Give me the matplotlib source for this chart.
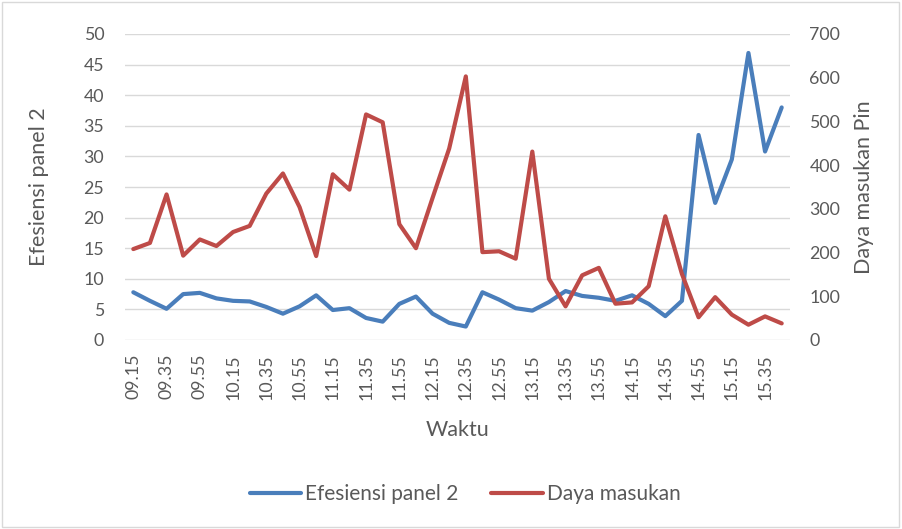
import matplotlib.pyplot as plt
from matplotlib.patches import Rectangle

plt.rcParams['font.family'] = ['Lato', 'DejaVu Sans']

# Data
waktu = ["09.15", "09.25", "09.35", "09.45", "09.55", "10.05", "10.15", "10.25",
         "10.35", "10.45", "10.55", "11.05", "11.15", "11.25", "11.35", "11.45",
         "11.55", "12.05", "12.15", "12.25", "12.35", "12.45", "12.55", "13.05",
         "13.15", "13.25", "13.35", "13.45", "13.55", "14.05", "14.15", "14.25",
         "14.35", "14.45", "14.55", "15.05", "15.15", "15.25", "15.35", "15.45"]

efisiensi = [7.8, 6.4, 5.1, 7.5, 7.7, 6.8, 6.4, 6.3, 5.4, 4.3,
             5.5, 7.3, 4.9, 5.2, 3.6, 3.0, 5.9, 7.1, 4.3, 2.8,
             2.2, 7.8, 6.6, 5.2, 4.8, 6.2, 8.0, 7.2, 6.9, 6.4,
             7.3, 5.9, 3.9, 6.4, 33.5, 22.4, 29.5, 46.9, 30.8, 38.0]

daya = [208, 222, 333, 193, 230, 215, 247, 261, 335, 381,
        304, 192, 379, 344, 516, 498, 265, 210, 325, 438,
        603, 201, 203, 186, 431, 140, 77, 148, 165, 83,
        86, 123, 283, 151, 52, 98, 58, 35, 54, 38]

blue = "#4A7EBB"
red = "#BE4B48"
gray = "#595959"

fig = plt.figure(figsize=(9.02, 5.29), dpi=100)
ax = fig.add_axes([125/902, 1 - 340/529, 665/902, 306/529])
ax2 = ax.twinx()

x = list(range(len(waktu)))
l1, = ax.plot(x, efisiensi, color=blue, lw=3, solid_joinstyle='round', solid_capstyle='round', zorder=3)
l2, = ax2.plot(x, daya, color=red, lw=3, solid_joinstyle='round', solid_capstyle='round', zorder=3)

ax.set_xlim(-0.5, len(waktu) - 0.5)
ax.set_ylim(0, 50)
ax2.set_ylim(0, 700)
ax.set_yticks(range(0, 51, 5))
ax2.set_yticks(range(0, 701, 100))
ax.set_xticks(x[::2])
ax.set_xticklabels(waktu[::2], rotation=90)

ax.grid(axis='y', color='#D9D9D9', lw=1)
ax.set_axisbelow(True)
for a in (ax, ax2):
    for s in a.spines.values():
        s.set_visible(False)
    a.tick_params(length=0, labelsize=12.8, labelcolor=gray)
ax.tick_params(axis='x', pad=10)
ax.tick_params(axis='y', pad=15)
ax2.tick_params(axis='y', pad=14)

ax.set_xlabel("Waktu", fontsize=15.5, color=gray, labelpad=15)
ax.set_ylabel("Efesiensi panel 2", fontsize=15.5, color=gray, labelpad=25)
ax2.set_ylabel("Daya masukan Pin", fontsize=15.5, color=gray, labelpad=10)

fig.legend([l1, l2], ["Efesiensi panel 2", "Daya masukan"], loc='center',
           bbox_to_anchor=(465/902, 1 - 494/529), ncol=2, frameon=False,
           fontsize=15, labelcolor=gray, handlelength=2.45, handletextpad=0.2,
           columnspacing=1.6)

fig.patches.append(Rectangle((0.002, 0.004), 0.995, 0.992, transform=fig.transFigure,
                             fill=False, edgecolor='#D9D9D9', lw=1))

fig.savefig("out.png", dpi=100)
